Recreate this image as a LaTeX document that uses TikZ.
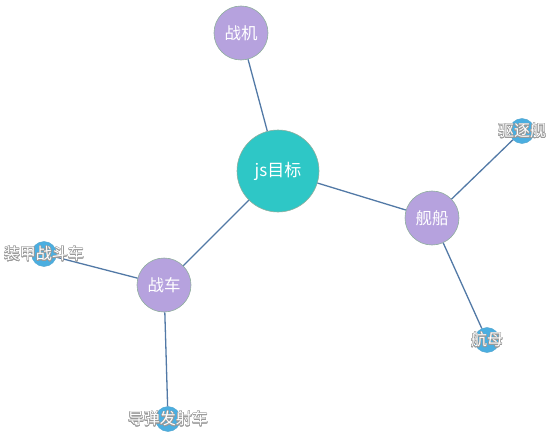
\documentclass[tikz,border=0pt]{standalone}
\usepackage{fontspec}
\setmainfont{Noto Sans CJK SC}
\usepackage{contour}
\contourlength{0.5pt}
\definecolor{edgec}{HTML}{5279A6}
\definecolor{centerc}{HTML}{2EC7C6}
\definecolor{purplec}{HTML}{B6A2DE}
\definecolor{bluec}{HTML}{4BAEE0}
\definecolor{ringc}{HTML}{8FAE9E}
\definecolor{outc}{HTML}{9A9A9A}
\tikzset{
  link/.style={draw=edgec, line width=1.3pt},
  hub/.style={circle, fill=centerc, draw=ringc, line width=0.6pt, minimum size=82pt, inner sep=0pt, text=white, font=\fontsize{17}{17}\selectfont},
  mid/.style={circle, fill=purplec, draw=ringc, line width=0.6pt, minimum size=54pt, inner sep=0pt, text=white, font=\fontsize{16.5}{16.5}\selectfont},
  leaf/.style={circle, fill=bluec, draw=bluec!80!gray, line width=0.4pt, minimum size=25pt, inner sep=0pt},
  leaflabel/.style={text=white, font=\fontsize{16}{16}\selectfont, inner sep=0pt},
}
\newcommand{\olabel}[1]{\contour{outc}{#1}}
\begin{document}
\begin{tikzpicture}[x=1pt, y=-1pt]
\useasboundingbox (0,0) rectangle (558,447);
\node[hub] (js) at (278,171) {js目标};
\node[mid] (zj) at (241,33) {战机};
\node[mid] (jc) at (432,218) {舰船};
\node[mid] (zc) at (164,285) {战车};
\node[leaf] (qzj) at (522,131) {};
\node[leaf] (hm) at (487,340) {};
\node[leaf] (zjzdc) at (44,254) {};
\node[leaf] (ddfsc) at (168,419) {};
\draw[link] (zj) -- (js);
\draw[link] (js) -- (jc);
\draw[link] (js) -- (zc);
\draw[link] (jc) -- (qzj);
\draw[link] (jc) -- (hm);
\draw[link] (zc) -- (zjzdc);
\draw[link] (zc) -- (ddfsc);
\node[leaflabel] (tqzj) at (qzj) {\olabel{驱逐舰}};
\node[leaflabel] (thm) at (hm) {\olabel{航母}};
\node[leaflabel] (tzjzdc) at (zjzdc) {\olabel{装甲战斗车}};
\node[leaflabel] (tddfsc) at (ddfsc) {\olabel{导弹发射车}};
\end{tikzpicture}
\end{document}
